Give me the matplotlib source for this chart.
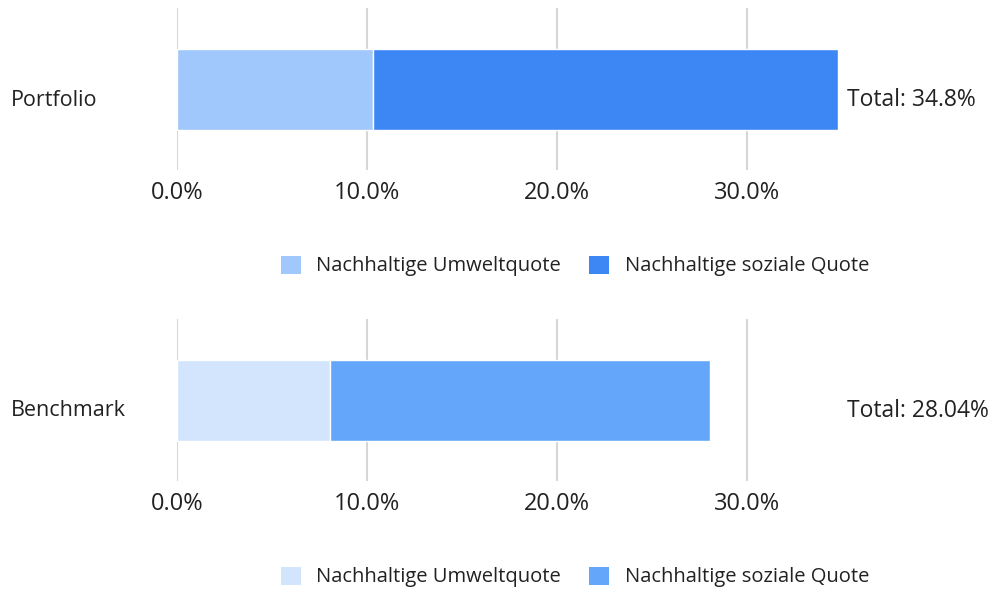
import matplotlib.pyplot as plt
from matplotlib.patches import Patch

plt.rcParams['font.family'] = ['Open Sans', 'DejaVu Sans']

groups = ['Portfolio', 'Benchmark']
umwelt = [10.3, 8.04]
sozial = [24.5, 20.0]
totals = ['Total: 34.8%', 'Total: 28.04%']
ticks = [0, 10, 20, 30]
tick_labels = ['0.0%', '10.0%', '20.0%', '30.0%']
legend_labels = ['Nachhaltige Umweltquote', 'Nachhaltige soziale Quote']
colors = [['#a0c8fc', '#3d87f5'], ['#d2e5fd', '#64a6fa']]

W, H = 996, 593
fig = plt.figure(figsize=(W / 100, H / 100), dpi=100)

# pixel boxes of the two panels: (top, bottom) and legend y
panels = [(8, 170, 266), (319, 481, 577)]
left, right = 177, 838
txt = '#222222'

for i, (top, bot, ly) in enumerate(panels):
    ax = fig.add_axes([left / W, 1 - bot / H, (right - left) / W, (bot - top) / H])
    c1, c2 = colors[i]
    ax.barh([0], [umwelt[i]], height=0.5, color=c1, edgecolor='white', linewidth=1, zorder=3)
    ax.barh([0], [sozial[i]], left=[umwelt[i]], height=0.5, color=c2, edgecolor='white', linewidth=1, zorder=3)
    ax.set_xlim(0, 34.8)
    ax.set_ylim(-0.5, 0.5)
    ax.set_xticks(ticks)
    ax.set_xticklabels(tick_labels, fontsize=17, color=txt)
    ax.set_yticks([])
    ax.tick_params(axis='x', length=0, pad=8)
    ax.grid(axis='x', color='#d6d6d6', linewidth=1.5, zorder=0)
    for s in ax.spines.values():
        s.set_visible(False)
    ty = 1 - ((top + bot) / 2 + 11) / H
    fig.text(847 / W, ty, totals[i], ha='left', va='center', fontsize=16.5, color=txt)
    fig.text(11 / W, ty, groups[i], ha='left', va='center', fontsize=15.5, color=txt)
    handles = [Patch(facecolor=c1), Patch(facecolor=c2)]
    fig.legend(handles, legend_labels, loc='center', bbox_to_anchor=(575 / W, 1 - ly / H),
               ncol=2, frameon=False, fontsize=14.5, handlelength=1.0, handleheight=1.0,
               columnspacing=1.4, handletextpad=0.75, labelcolor=txt)

fig.savefig('out.png', dpi=100)
